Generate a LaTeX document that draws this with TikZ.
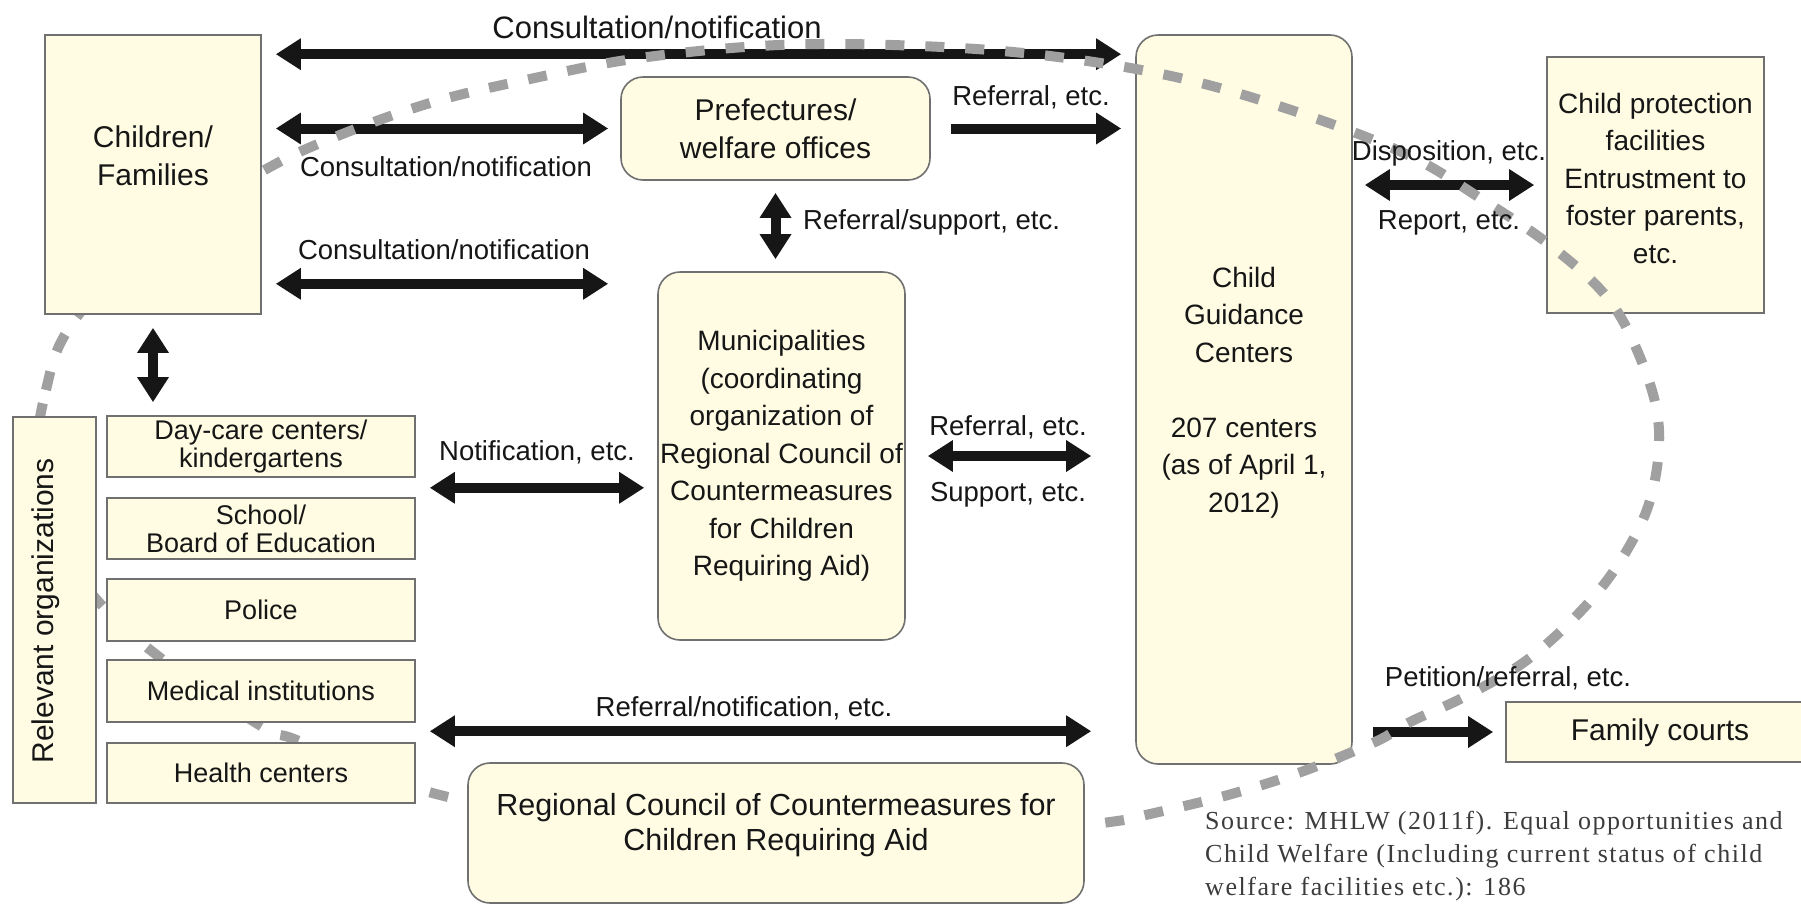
\documentclass[tikz,border=0pt]{standalone}
\usepackage{fontspec}
\setmainfont{Liberation Sans}
\newfontfamily\srcfont{Liberation Serif}[LetterSpace=6]
\usetikzlibrary{arrows.meta,calc}

\definecolor{boxfill}{HTML}{FFFCE3}
\definecolor{boxline}{HTML}{707070}
\definecolor{ink}{HTML}{161616}
\definecolor{loopgray}{HTML}{A0A0A0}
\definecolor{srcink}{HTML}{3C3C3C}

% paper < arrows < boxes crossed by the loop < loop < everything else
\pgfdeclarelayer{paper}
\pgfdeclarelayer{arrowlayer}
\pgfdeclarelayer{lowbox}
\pgfdeclarelayer{looplayer}
\pgfsetlayers{paper,arrowlayer,lowbox,looplayer,main}

\tikzset{
  box/.style={draw=boxline, fill=boxfill, line width=1.6pt, inner sep=0pt},
  rbox/.style={box, rounded corners=22pt},
  txtA/.style={font=\fontsize{30}{38}\selectfont, align=center, text=ink, inner sep=0pt},
  txtB/.style={font=\fontsize{28}{37.5}\selectfont, align=center, text=ink, inner sep=0pt},
  txtC/.style={font=\fontsize{27}{28}\selectfont, align=center, text=ink, inner sep=0pt},
  lab/.style={font=\fontsize{27.5}{33}\selectfont, text=ink, inner sep=0pt},
  labbig/.style={font=\fontsize{31}{36}\selectfont, text=ink, inner sep=0pt},
  twoway/.style={draw=ink, line width=10pt, <->},
  oneway/.style={draw=ink, line width=10pt, ->},
  careloop/.style={draw=loopgray, line width=10pt, dash pattern=on 19pt off 21pt}
}

\begin{document}
\begin{tikzpicture}[x=1pt, y=-1pt, >={Triangle[length=25pt,width=30pt]}]
\useasboundingbox (0,0) rectangle (1801,908);
\begin{pgfonlayer}{paper}
  \fill[white] (0,0) rectangle (1801,908);
\end{pgfonlayer}

% ---- boxes ----
\node[box, minimum width=216pt, minimum height=279pt] (cf) at (153,174.5) {};
\node[txtA] (cft) at (153,156) {Children/\\Families};

\node[rbox, txtA, minimum width=309pt, minimum height=103pt] (pref) at (775.5,128.5)
  {Prefectures/\\welfare offices};

\begin{pgfonlayer}{lowbox}
  \node[rbox, minimum width=216pt, minimum height=729pt] (cgc) at (1244,399.5) {};
  \node[box, minimum width=217pt, minimum height=256pt] (cpf) at (1655.5,185) {};
\end{pgfonlayer}
\node[txtB] (cgct) at (1244,392.5)
  {Child\\Guidance\\Centers\\[37.5pt]207 centers\\(as of April 1,\\2012)};
\node[txtB] (cpft) at (1655.5,178)
  {Child protection\\facilities\\Entrustment to\\foster parents,\\etc.};

\node[rbox, txtB, minimum width=247pt, minimum height=368pt] (mun) at (781.5,456)
  {Municipalities\\(coordinating\\organization of\\Regional Council of\\Countermeasures\\for Children\\Requiring Aid)};

\node[box, minimum width=83pt, minimum height=386pt] (rel) at (54.5,610) {};
\node[txtA, rotate=90] (relt) at (46,611) {Relevant organizations};

\node[box, txtC, minimum width=308pt, minimum height=61pt] (dc) at (261,446.5)
  {Day-care centers/\\kindergartens};
\node[box, txtC, minimum width=308pt, minimum height=61pt] (sch) at (261,528.5)
  {School/\\Board of Education};
\node[box, txtC, minimum width=308pt, minimum height=62pt] (pol) at (261,610) {Police};
\node[box, txtC, minimum width=308pt, minimum height=62pt] (med) at (261,691) {Medical institutions};
\node[box, txtC, minimum width=308pt, minimum height=60pt] (hc) at (261,773) {Health centers};

\node[rbox, minimum width=616pt, minimum height=140pt] (rc) at (776,833) {};
\node[txtA, font=\fontsize{30.5}{35}\selectfont] (rct) at (776,825)
  {Regional Council of Countermeasures for\\Children Requiring Aid};

\node[box, minimum width=324pt, minimum height=60pt] (fc) at (1668,732) {};
\node[txtA] (fct) at (1660,733) {Family courts};

% ---- connector labels ----
\node[labbig] (l1) at (657,27) {Consultation/notification};
\node[lab] (l2) at (446,167) {Consultation/notification};
\node[lab] (l3) at (444,250) {Consultation/notification};
\node[lab] (l4) at (1031,97) {Referral, etc.};
\node[lab, anchor=west] (l5) at (803,222) {Referral/support, etc.};
\node[lab] (l6) at (1449,153) {Disposition, etc.};
\node[lab] (l7) at (1449,223) {Report, etc.};
\node[lab] (l8) at (537,452) {Notification, etc.};
\node[lab] (l9) at (1008,427) {Referral, etc.};
\node[lab] (l10) at (1008,495) {Support, etc.};
\node[lab] (l11) at (744,708) {Referral/notification, etc.};
\node[lab] (l12) at (1508,678) {Petition/referral, etc.};

% ---- source note ----
\node[anchor=west, align=left, inner sep=0pt, text=srcink,
      font=\srcfont\fontsize{26}{33}\selectfont] (src) at (1205,856)
  {Source: MHLW (2011f). Equal opportunities and\\Child Welfare (Including current status of child\\welfare facilities etc.): 186};

% ---- connectors ----
\begin{pgfonlayer}{arrowlayer}
  \draw[twoway] ($(cf.north east)+(14,20)$) -- ($(cgc.north west)+(-14,20)$);
  \draw[twoway] ($(cf.east |- pref.west)+(14,0)$) -- ($(pref.west)+(-12,0)$);
  \coordinate (a3) at ($(cf.south east)+(14,-31)$);
  \draw[twoway] (a3) -- ($(a3 -| pref.west)+(-12,0)$);
  \draw[oneway] ($(pref.east)+(20,0)$) -- ($(pref.east -| cgc.west)+(-14,0)$);
  \draw[twoway] ($(pref.south)+(0,12)$) -- ($(pref.south |- mun.north)+(0,-12)$);
  \draw[twoway] ($(cgc.east |- cpf.west)+(12,0)$) -- ($(cpf.west)+(-12,0)$);
  \draw[twoway] ($(cf.south)+(0,13)$) -- ($(cf.south |- dc.north)+(0,-13)$);
  \draw[twoway] ($(dc.south east)+(14,10)$) -- ($(dc.south east -| mun.west)+(-13,10)$);
  \draw[twoway] ($(mun.east)+(22,0)$) -- ($(mun.east -| cgc.west)+(-44,0)$);
  \draw[twoway] ($(hc.north east)+(14,-11)$) -- ($(hc.north east -| cgc.west)+(-44,-11)$);
  \draw[oneway] ($(fc.west -| cgc.east)+(20,0)$) -- ($(fc.west)+(-12,0)$);
\end{pgfonlayer}

% ---- dashed loop around the network ----
\begin{pgfonlayer}{looplayer}
  \draw[careloop] plot[smooth cycle, tension=0.6] coordinates {
    (38,440) (46,390) (62,340) (100,290) (165,232) (261,172) (330,139)
    (430,103) (530,79) (640,58) (779,45) (920,46) (1050,56) (1180,78)
    (1300,113) (1408,155) (1483,200) (1551,246) (1610,301) (1645,370)
    (1659,430) (1652,493) (1630,545) (1591,600) (1531,657) (1468,695)
    (1410,722) (1375,742) (1301,772) (1228,795) (1150,814) (1110,822)
    (1000,834) (850,840) (700,833) (560,818) (440,795) (370,770)
    (294,739) (261,726) (158,656) (97,600) (64,550) (46,495)};
\end{pgfonlayer}
\end{tikzpicture}
\end{document}
